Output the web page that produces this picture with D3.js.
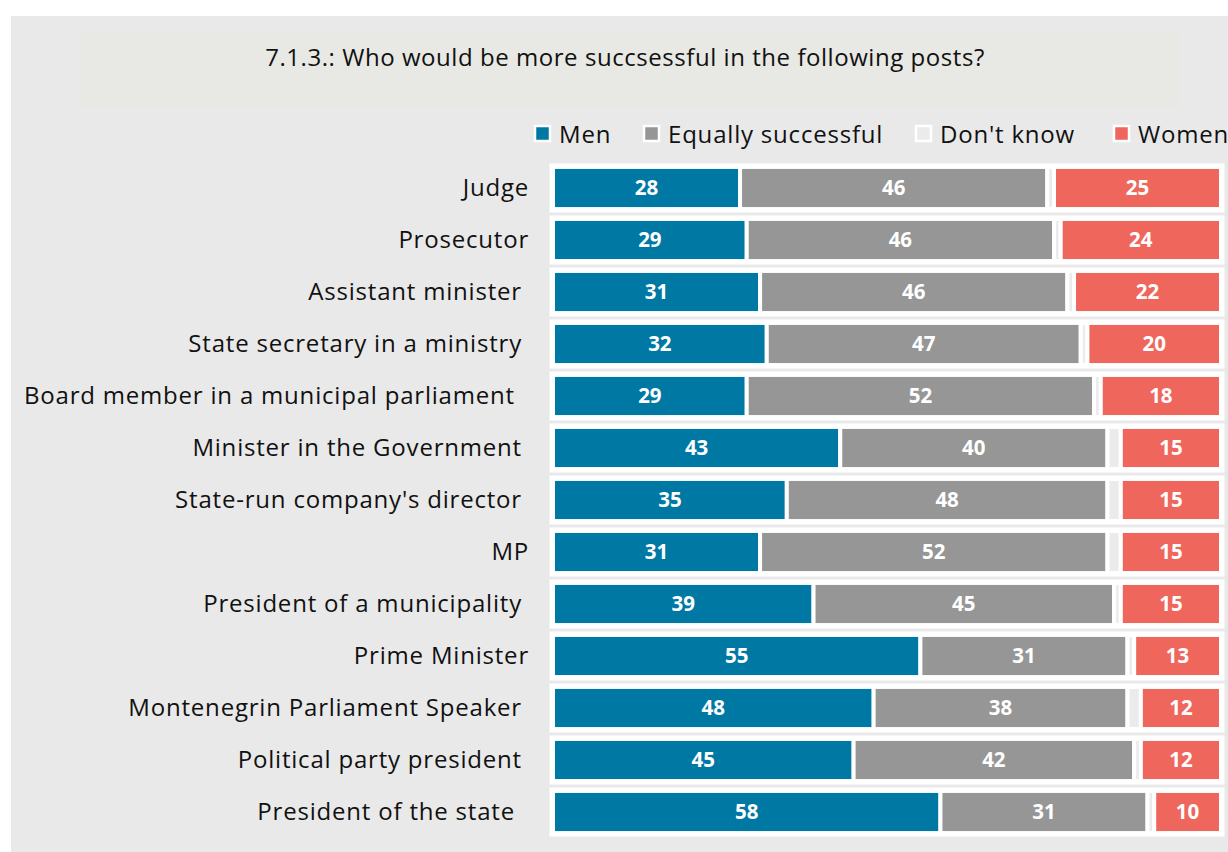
<!DOCTYPE html>
<html>
<head>
<meta charset="utf-8">
<script src="https://cdn.jsdelivr.net/npm/d3@7"></script>
<style>
  html, body { margin: 0; padding: 0; background: #ffffff; }
  svg { display: block; }
  text { font-family: "Open Sans", "Noto Sans", sans-serif; }
</style>
</head>
<body>
<svg id="chart" width="1228" height="852"></svg>
<script>
// Survey question 7.1.3 – share of answers (%) per post
const posts = [
  "Judge",
  "Prosecutor",
  "Assistant minister ",
  "State secretary in a ministry ",
  "Board member in a municipal parliament  ",
  "Minister in the Government ",
  "State-run company's director ",
  "MP",
  "President of a municipality ",
  "Prime Minister",
  "Montenegrin Parliament Speaker ",
  "Political party president ",
  "President of the state  "
];
const men      = [28, 29, 31, 32, 29, 43, 35, 31, 39, 55, 48, 45, 58];
const equally  = [46, 46, 46, 47, 52, 40, 48, 52, 45, 31, 38, 42, 31];
const dontKnow = [ 1,  1,  1,  1,  1,  2,  2,  2,  1,  1,  2,  1,  1];
const women    = [25, 24, 22, 20, 18, 15, 15, 15, 15, 13, 12, 12, 10];

const seriesKeys   = ["men", "equally", "dontKnow", "women"];
const seriesNames  = ["Men", "Equally successful", "Don't know", "Women"];
const seriesColors = ["#0078a4", "#969696", "#ebebeb", "#ef665d"];

const title = "7.1.3.: Who would be more succsessful in the following posts?";

const rows = posts.map((p, i) => ({
  post: p, men: men[i], equally: equally[i], dontKnow: dontKnow[i], women: women[i]
}));

const svg = d3.select("#chart");

// panel background and title band
svg.append("rect").attr("x", 11).attr("y", 16).attr("width", 1217).attr("height", 836)
  .attr("fill", "#e9e9e9");
svg.append("rect").attr("x", 80).attr("y", 30).attr("width", 1100).attr("height", 78)
  .attr("fill", "#e8e8e4");
svg.append("text").attr("x", 625).attr("y", 66).attr("text-anchor", "middle")
  .attr("font-size", 24).attr("letter-spacing", 0.55).attr("fill", "#111").text(title);

const x = d3.scaleLinear().domain([0, 100]).range([553, 1221]);
const y = d3.scaleBand().domain(posts).range([162, 838]).paddingInner(0.19).paddingOuter(0.095);

const stack = d3.stack().keys(seriesKeys)(rows);

// white frame behind each bar
svg.append("g").selectAll("rect").data(rows).join("rect")
  .attr("x", x(0) - 3.5)
  .attr("y", d => y(d.post) - 3.5)
  .attr("width", x(100) - x(0) + 7)
  .attr("height", y.bandwidth() + 7)
  .attr("fill", "#ffffff");

const layers = svg.append("g").selectAll("g").data(stack).join("g")
  .attr("fill", (d, i) => seriesColors[i]);

layers.selectAll("rect").data(d => d).join("rect")
  .attr("x", d => x(d[0]))
  .attr("y", d => y(d.data.post))
  .attr("width", d => x(d[1]) - x(d[0]))
  .attr("height", y.bandwidth())
  .attr("stroke", "#ffffff")
  .attr("stroke-width", 4);

// value labels (not shown for "Don't know")
const labelled = stack.filter(s => s.key !== "dontKnow");
svg.append("g").selectAll("g").data(labelled).join("g")
  .selectAll("text").data(d => d.map(v => ({ v, key: d.key }))).join("text")
  .attr("x", d => (x(d.v[0]) + x(d.v[1])) / 2)
  .attr("y", d => y(d.v.data.post) + y.bandwidth() / 2)
  .attr("dy", "0.36em")
  .attr("text-anchor", "middle")
  .attr("font-size", 20.5)
  .attr("font-weight", "bold")
  .attr("fill", "#ffffff")
  .text(d => d.v.data[d.key]);

// category axis labels
const yAxis = d3.axisLeft(y).tickSize(0).tickPadding(0);
const ag = svg.append("g").attr("transform", "translate(529,0)").call(yAxis);
ag.select(".domain").remove();
ag.selectAll("text")
  .attr("font-size", 24)
  .attr("letter-spacing", 0.8)
  .attr("fill", "#111")
  .style("font-family", "'Open Sans', 'Noto Sans', sans-serif")
  .style("white-space", "pre");

// legend
const legendX = [535, 644, 916, 1114];
const lg = svg.append("g").selectAll("g").data(seriesNames).join("g")
  .attr("transform", (d, i) => `translate(${legendX[i]},126)`);
lg.append("rect").attr("x", 0).attr("y", 0).attr("width", 15).attr("height", 15)
  .attr("fill", (d, i) => seriesColors[i]).attr("stroke", "#ffffff").attr("stroke-width", 2.5);
lg.append("text").attr("x", 24).attr("y", 8).attr("dy", "0.36em")
  .attr("font-size", 24).attr("letter-spacing", 0.8).attr("fill", "#111").text(d => d);
</script>
</body>
</html>
